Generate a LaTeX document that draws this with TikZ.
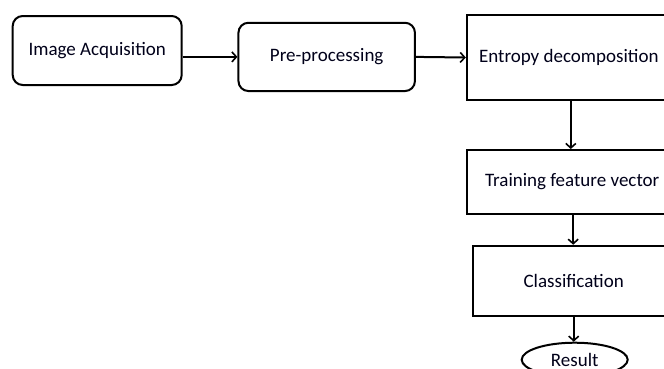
\documentclass[tikz,border=0pt]{standalone}
\usepackage{fontspec}
\setmainfont{Carlito}
\usetikzlibrary{arrows.meta,shapes.geometric}
\begin{document}
\begin{tikzpicture}[x=1pt,y=-1pt,
  box/.style={draw=black,line width=2pt,inner sep=0pt,text=black!90!blue,font=\fontsize{19}{22}\selectfont},
  rbox/.style={box,rounded corners=10pt},
  ebox/.style={box,ellipse},
  arr/.style={line width=2pt,-{Straight Barb[length=4.5pt,width=10pt,line width=1.6pt]}}]
\useasboundingbox (0,0) rectangle (664,368);
\clip (0,0) rectangle (664,368);
\node[rbox,minimum width=169pt,minimum height=69pt] (ia) at (97.2,50.5) {Image Acquisition};
\node[rbox,minimum width=176.5pt,minimum height=68.3pt] (pp) at (326.7,56.9) {Pre-processing};
\node[box,minimum width=208pt,minimum height=85pt] (en) at (570.8,57.5) {\hspace*{-4pt}Entropy decomposition};
\node[box,minimum width=211pt,minimum height=64pt] (tr) at (572.2,182) {Training feature vector};
\node[box,minimum width=202pt,minimum height=70.3pt] (cl) at (573.7,280.9) {Classification};
\node[ebox,minimum width=106pt,minimum height=34pt] (rs) at (574.7,359.7) {Result};
\draw[arr] (ia.east |- pp.west) -- (pp.west);
\draw[arr] (pp.east) -- (en.west);
\draw[arr] (en.south) -- (en.south |- tr.north);
\draw[arr] ([xshift=1pt]tr.south) -- ([xshift=1pt]tr.south |- cl.north);
\draw[arr] (cl.south) -- (cl.south |- rs.north);
\end{tikzpicture}
\end{document}
